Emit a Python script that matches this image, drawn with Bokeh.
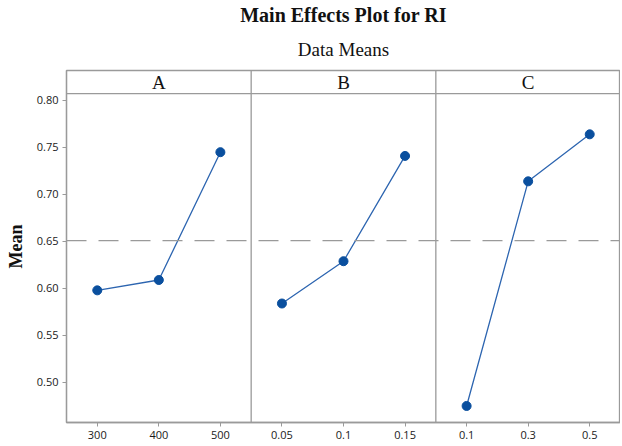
import numpy as np
from bokeh.plotting import figure
from bokeh.models import Span, Title, Range1d, FixedTicker, ColumnDataSource
from bokeh.embed import file_html
from bokeh.resources import INLINE
from bokeh.core.properties import value

# ---- data ----
factors = ["A", "B", "C"]
A_levels = ["300", "400", "500"]
B_levels = ["0.05", "0.1", "0.15"]
C_levels = ["0.1", "0.3", "0.5"]
A_means = [0.598, 0.609, 0.745]
B_means = [0.584, 0.629, 0.741]
C_means = [0.475, 0.714, 0.764]
y_ticks = [0.50, 0.55, 0.60, 0.65, 0.70, 0.75, 0.80]

levels = [A_levels, B_levels, C_levels]
means = [A_means, B_means, C_means]
grand_mean = float(np.mean(np.concatenate([A_means, B_means, C_means])))

n_lv = 3
y_bottom, y_top = 0.4574, 0.8319
header_y = 0.8074

p = figure(width=620, height=444, output_backend="svg", toolbar_location=None,
           x_range=Range1d(0.5, 0.5 + n_lv * len(factors)),
           y_range=Range1d(y_bottom, y_top),
           min_border_left=66, min_border_right=0, min_border_top=70,
           min_border_bottom=22, title=None)

p.background_fill_color = "white"
p.border_fill_color = "white"
p.outline_line_color = "#9a9a9a"
p.outline_line_width = 1.3
p.xgrid.visible = False
p.ygrid.visible = False

# titles
p.add_layout(Title(text="Data Means", align="center", standoff=18,
                   vertical_align="top",
                   text_font="Liberation Serif", text_font_size="19px",
                   text_font_style="normal", text_color="#111111"), "above")
p.add_layout(Title(text="Main Effects Plot for RI", align="center", standoff=3,
                   vertical_align="top",
                   text_font="Liberation Serif", text_font_size="20px",
                   text_font_style="bold", text_color="#111111"), "above")

# axes
tick_pos = []
tick_labels = {}
for i, lv in enumerate(levels):
    for j, lab in enumerate(lv):
        pos = i * n_lv + j + 1
        tick_pos.append(pos)
        tick_labels[pos] = lab

p.xaxis.ticker = FixedTicker(ticks=tick_pos)
p.xaxis.major_label_overrides = tick_labels
p.yaxis.ticker = FixedTicker(ticks=y_ticks)
p.yaxis.major_label_overrides = {t: f"{t:.2f}" for t in y_ticks}
for ax in (p.xaxis, p.yaxis):
    ax.axis_line_color = "#9a9a9a"
    ax.axis_line_width = 1.3
    ax.major_tick_line_color = "#9a9a9a"
    ax.major_tick_out = 4
    ax.major_tick_in = 0
    ax.minor_tick_line_color = None
    ax.major_label_text_font = "Open Sans"
    ax.major_label_text_font_size = "11px"
    ax.major_label_text_color = "#1a1a1a"
    ax.major_label_standoff = 4
p.yaxis.axis_label = "Mean"
p.yaxis.axis_label_text_font = "Liberation Serif"
p.yaxis.axis_label_text_font_style = "bold"
p.yaxis.axis_label_text_font_size = "18px"
p.yaxis.axis_label_text_color = "#111111"
p.yaxis.axis_label_standoff = 8

# panel dividers and header band
for i in range(1, len(factors)):
    p.add_layout(Span(location=i * n_lv + 0.5, dimension="height",
                      line_color="#9a9a9a", line_width=1.3))
p.add_layout(Span(location=header_y, dimension="width",
                  line_color="#9a9a9a", line_width=1.3))
hdr = ColumnDataSource(dict(x=[i * n_lv + (n_lv + 1) / 2 for i in range(len(factors))],
                            y=[(header_y + y_top) / 2] * len(factors),
                            t=factors))
p.text(x="x", y="y", text="t", source=hdr, text_align="center",
       text_baseline="middle", text_font=value("Liberation Serif"),
       text_font_size="19px", text_color="#111111")

# grand-mean reference line
p.add_layout(Span(location=grand_mean, dimension="width", line_color="#9a9a9a",
                  line_width=1.3, line_dash="20 12"))

# main effects
for i, m in enumerate(means):
    xs = [i * n_lv + j + 1 for j in range(n_lv)]
    p.line(xs, m, line_color="#2d65b0", line_width=1.3)
    p.scatter(xs, m, size=9, marker="circle", fill_color="#0a4f9e",
              line_color="#0a4f9e")

open("out.html", "w").write(file_html(p, INLINE))
